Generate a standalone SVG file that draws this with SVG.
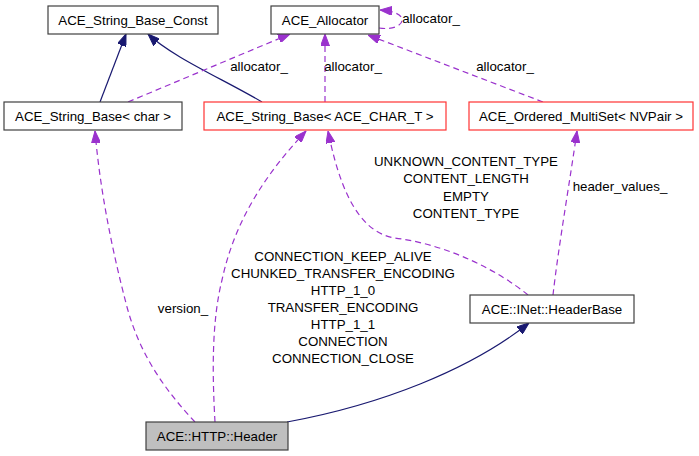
<svg xmlns="http://www.w3.org/2000/svg" width="699" height="456" viewBox="0 0 699 456">
<style>
text{font-family:"Liberation Sans",Arial,sans-serif;font-size:13.3px;fill:#000;text-anchor:middle}
.n rect{fill:#fff;stroke:#404040;stroke-width:1.2}
.n.red rect{stroke:#ff3333}
.n.cur rect{fill:#bfbfbf}
.e{fill:none;stroke-width:1.2}
.inh{stroke:#191970;marker-end:url(#an)}
.use{stroke:#9a32cd;stroke-dasharray:6,4;marker-end:url(#ap)}
</style>
<defs>
<marker id="an" markerUnits="userSpaceOnUse" viewBox="0 0 12 9" markerWidth="12" markerHeight="9" refX="12" refY="4.5" orient="auto"><path d="M0,0 L12,4.5 L0,9 z" fill="#191970" stroke="#191970"/></marker>
<marker id="ap" markerUnits="userSpaceOnUse" viewBox="0 0 12 9" markerWidth="12" markerHeight="9" refX="12" refY="4.5" orient="auto"><path d="M0,0 L12,4.5 L0,9 z" fill="#9a32cd" stroke="#9a32cd"/></marker>
</defs>
<g id="edges">
<path class="e inh" d="M100,102 L126,34"/>
<path class="e inh" d="M262,102 C225,80 172,57 148,34"/>
<path class="e use" d="M128,102 L290,34"/>
<text x="259" y="71">allocator_</text>
<path class="e use" d="M325,102 L325,34"/>
<text x="353" y="71">allocator_</text>
<path class="e use" d="M379,28 C392,30 402,26 402,20 C402,14 393,11 380,10"/>
<text x="431" y="23">allocator_</text>
<path class="e use" d="M543,102 L368,35"/>
<text x="505" y="71">allocator_</text>
<path class="e use" d="M528,295 C500,272 450,245 395,238 C355,232 338,180 328,131"/>
<text x="466" y="166">UNKNOWN_CONTENT_TYPE</text>
<text x="466" y="183">CONTENT_LENGTH</text>
<text x="466" y="201">EMPTY</text>
<text x="466" y="218">CONTENT_TYPE</text>
<path class="e use" d="M553,295 C558,250 570,180 577,131"/>
<text x="620" y="191">header_values_</text>
<path class="e use" d="M195,422 C165,390 140,355 127,307 C112,250 100,190 95,131"/>
<text x="183" y="313">version_</text>
<path class="e use" d="M215,422 C212,370 212,320 222,280 C235,220 265,175 306,131"/>
<text x="343" y="261">CONNECTION_KEEP_ALIVE</text>
<text x="343" y="278">CHUNKED_TRANSFER_ENCODING</text>
<text x="343" y="295">HTTP_1_0</text>
<text x="343" y="312">TRANSFER_ENCODING</text>
<text x="343" y="329">HTTP_1_1</text>
<text x="343" y="346">CONNECTION</text>
<text x="343" y="363">CONNECTION_CLOSE</text>
<path class="e inh" d="M287,422 C380,405 470,370 529,323"/>
</g>
<g id="n_string_base_const" class="n"><rect x="48" y="6" width="170" height="28"/><text x="133" y="24.5">ACE_String_Base_Const</text></g>
<g id="n_allocator" class="n"><rect x="271" y="6" width="108" height="28"/><text x="325" y="24.5">ACE_Allocator</text></g>
<g id="n_string_base_char" class="n"><rect x="4" y="102" width="178" height="28"/><text x="93" y="120.5">ACE_String_Base&lt; char &gt;</text></g>
<g id="n_string_base_t" class="n red"><rect x="204" y="102" width="242" height="28"/><text x="325" y="120.5">ACE_String_Base&lt; ACE_CHAR_T &gt;</text></g>
<g id="n_multiset" class="n red"><rect x="469" y="102" width="224" height="28"/><text x="581" y="120.5">ACE_Ordered_MultiSet&lt; NVPair &gt;</text></g>
<g id="n_headerbase" class="n"><rect x="470" y="295" width="164" height="28"/><text x="552" y="313.5">ACE::INet::HeaderBase</text></g>
<g id="n_header" class="n cur"><rect x="146" y="422" width="142" height="28"/><text x="217" y="440.5">ACE::HTTP::Header</text></g>
</svg>
